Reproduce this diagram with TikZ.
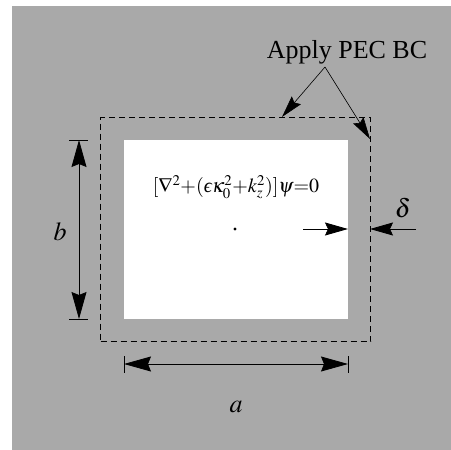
\documentclass[tikz,border=0pt]{standalone}
\usepackage{mathptmx}
\usepackage{fontspec}
\setmainfont{Liberation Serif}
\usetikzlibrary{arrows.meta}
\definecolor{bggray}{RGB}{169,169,169}
\newcommand{\lunateps}{\mbox{\itshape ϵ}}
\tikzset{
  dimarrow/.style={{Stealth[length=27pt,width=15pt,inset=3pt]}-{Stealth[length=27pt,width=15pt,inset=3pt]}, line width=0.8pt},
  darrow/.style={-{Stealth[length=23pt,width=13pt,inset=3pt]}, line width=0.8pt},
  parrow/.style={-{Stealth[length=22pt,width=12pt,inset=3pt]}, line width=0.6pt},
  tick/.style={line width=0.8pt},
  lbl/.style={inner sep=0pt, font=\fontsize{26}{30}\selectfont}
}
\begin{document}
\begin{tikzpicture}[x=1pt,y=-1pt]
\useasboundingbox (0,0) rectangle (451,450);
\fill[bggray] (12,6) rectangle (451,450);
\node[draw, dash pattern=on 6pt off 4pt, line width=0.8pt, minimum width=270pt, minimum height=224pt, inner sep=0pt] (pec) at (235.5,229.5) {};
\node[fill=white, minimum width=224pt, minimum height=179pt, inner sep=0pt] (core) at (236,229.5) {};
\fill (235,229) circle (1.6pt);
\node[inner sep=0pt, font=\fontsize{20}{24}\selectfont] (eq) at (236,187) {$[\nabla^2{+}(\lunateps\kappa_0^2{+}k_z^2)]\psi{=}0$};
% b dimension
\coordinate (bt) at (79,140);
\coordinate (bb) at (79,319);
\draw[tick] (69,140) -- (88,140);
\draw[tick] (69,319) -- (88,319);
\draw[dimarrow] (bt) -- (bb);
\node[lbl] (b) at (60,232) {$b$};
% a dimension
\coordinate (al) at (124,364);
\coordinate (ar) at (348,364);
\draw[tick] (124,356) -- (124,373);
\draw[tick] (348,356) -- (348,373);
\draw[dimarrow] (al) -- (ar);
\node[lbl] (a) at (236,407) {$a$};
% delta
\coordinate (d1) at (303,229);
\coordinate (d1e) at (348,229);
\coordinate (d2) at (416,229);
\coordinate (d2e) at (370,229);
\draw[darrow] (d1) -- (d1e);
\draw[darrow] (d2) -- (d2e);
\node[lbl] (delta) at (403,208) {$\delta$};
% PEC label
\node[lbl] (pecl) at (347,52) {Apply PEC BC};
\coordinate (ps) at (325,67);
\coordinate (pe1) at (282,117);
\coordinate (pe2) at (370,139);
\draw[parrow] (ps) -- (pe1);
\draw[parrow] (ps) -- (pe2);
\end{tikzpicture}
\end{document}
